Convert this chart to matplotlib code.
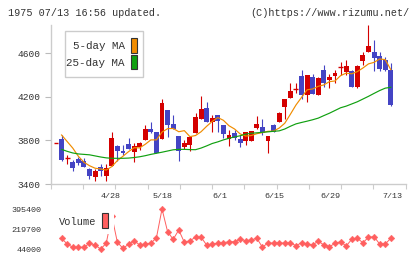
import numpy as np
import matplotlib
matplotlib.use('Agg')
import matplotlib.pyplot as plt
from matplotlib.patches import Rectangle

plt.rcParams['font.family'] = ['Liberation Mono', 'DejaVu Sans Mono']

# ---------------- data ----------------
opens = [3780, 3813, 3636, 3605, 3630, 3611, 3538, 3467, 3559, 3473,
         3565, 3749, 3703, 3767, 3697, 3737, 3804, 3905, 3877, 3813,
         4080, 3954, 3841, 3743, 3755, 3871, 3997, 4098, 3972, 4034,
         3942, 3810, 3865, 3810, 3798, 3798, 3917, 3927, 3798, 3939,
         3972, 4110, 4193, 4269, 4392, 4217, 4383, 4217, 4447, 4355,
         4395, 4478, 4425, 4441, 4288, 4533, 4609, 4615, 4575, 4539,
         4447]
highs = [3780, 3850, 3666, 3620, 3651, 3642, 3550, 3535, 3584, 3584,
         3877, 3758, 3758, 3825, 3773, 3790, 3942, 3966, 3877, 4180,
         4080, 4034, 3841, 3804, 3841, 4055, 4208, 4156, 4034, 4034,
         3942, 3896, 3896, 3850, 3880, 3887, 4024, 3997, 3841, 3951,
         4064, 4178, 4331, 4331, 4447, 4401, 4410, 4380, 4493, 4410,
         4447, 4517, 4539, 4447, 4493, 4615, 4860, 4722, 4615, 4570,
         4508]
lows = [3780, 3614, 3584, 3522, 3578, 3553, 3449, 3430, 3470, 3430,
        3565, 3611, 3666, 3718, 3605, 3715, 3800, 3865, 3682, 3813,
        3834, 3905, 3614, 3718, 3706, 3871, 3997, 3972, 3880, 3880,
        3819, 3752, 3804, 3743, 3758, 3798, 3902, 3850, 3688, 3874,
        3972, 3997, 4193, 4239, 4181, 4156, 4226, 4217, 4288, 4279,
        4330, 4401, 4401, 4294, 4279, 4493, 4609, 4441, 4441, 4441,
        4116]
closes = [3780, 3620, 3636, 3550, 3596, 3559, 3476, 3519, 3522, 3544,
          3819, 3703, 3688, 3724, 3749, 3779, 3905, 3877, 3682, 4144,
          3945, 3905, 3706, 3780, 3828, 4012, 4089, 3972, 4003, 3982,
          3859, 3850, 3825, 3780, 3874, 3887, 3951, 3865, 3841, 3874,
          4049, 4178, 4254, 4269, 4217, 4401, 4226, 4370, 4325, 4383,
          4422, 4478, 4484, 4294, 4484, 4585, 4667, 4554, 4456, 4447,
          4125]
ma5 = [np.nan, 3850, 3790, 3730, 3655, 3600, 3568, 3545, 3538, 3528,
       3560, 3615, 3655, 3697, 3733, 3732, 3765, 3805, 3805, 3877,
       3908, 3910, 3880, 3890, 3835, 3845, 3880, 3930, 3975, 4010,
       3985, 3935, 3905, 3860, 3840, 3845, 3862, 3872, 3884, 3886,
       3914, 3958, 4040, 4125, 4195, 4265, 4273, 4297, 4310, 4340,
       4346, 4395, 4418, 4412, 4432, 4465, 4503, 4517, 4548, 4542,
       4450]
ma25 = [np.nan, 3718, 3700, 3685, 3676, 3672, 3668, 3658, 3648, 3640,
        3636, 3636, 3636, 3638, 3643, 3650, 3660, 3672, 3682, 3692,
        3703, 3714, 3718, 3718, 3716, 3715, 3730, 3750, 3772, 3787,
        3805, 3820, 3832, 3843, 3858, 3866, 3870, 3875, 3879, 3884,
        3888, 3905, 3930, 3952, 3965, 3977, 3990, 4005, 4028, 4050,
        4075, 4100, 4115, 4135, 4155, 4180, 4205, 4232, 4258, 4280,
        4288]
volumes = [np.nan, 138000, 88000, 59000, 59000, 59000, 94000, 79000, 44000, 94000,
           335000, 103000, 50000, 85000, 117000, 79000, 88000, 94000, 143000, 395400,
           196000, 129000, 211000, 103000, 117000, 147000, 147000, 79000, 88000, 94000,
           99000, 108000, 108000, 129000, 117000, 123000, 138000, 59000, 99000, 94000,
           99000, 94000, 99000, 73000, 99000, 88000, 79000, 114000, 79000, 64000,
           94000, 108000, 70000, 129000, 138000, 99000, 147000, 152000, 88000, 88000,
           138000]
date_labels = ['4/28', '5/18', '6/1', '6/15', '6/29', '7/13']
date_label_pos = [9.7, 19.0, 29.4, 39.1, 49.1, 60.2]
price_ticks = [3400, 3800, 4200, 4600]
vol_ticks = [44000, 219700, 395400]

# ---------------- figure ----------------
W, H = 420, 259
fig = plt.figure(figsize=(W / 100, H / 100), dpi=100)

def rect_px(x0, y0, x1, y1):
    return [x0 / W, 1 - y1 / H, (x1 - x0) / W, (y1 - y0) / H]

UP = '#d40000'
DOWN = '#4444c4'
GRID = '#cccccc'
TXT = '#333333'

ax = fig.add_axes(rect_px(50.7, 25, 405.7, 184))
n = len(closes)
x = np.arange(n)
o = np.array(opens, float); c = np.array(closes, float)
h = np.array(highs, float); l = np.array(lows, float)
cols = [UP if cc >= oo else DOWN for oo, cc in zip(o, c)]
ax.vlines(x, l, h, colors=cols, linewidth=0.8, zorder=2)
bw = 0.88
body_lo = np.minimum(o, c)
body_h = np.abs(c - o)
flat = body_h == 0
ax.bar(x[~flat], body_h[~flat], bottom=body_lo[~flat], width=bw,
       color=np.array(cols)[~flat], linewidth=0, zorder=2)
ax.hlines(o[flat], x[flat] - bw / 2, x[flat] + bw / 2,
          colors=np.array(cols)[flat], linewidth=1.0, zorder=2)

ax.plot(x, ma5, color='#f08c00', linewidth=0.85, zorder=3)
ax.plot(x, ma25, color='#10a010', linewidth=0.85, zorder=3)

ax.set_xlim(-0.95, 62.67)
ax.set_ylim(3400, 4860)
for s in ['top', 'right']:
    ax.spines[s].set_visible(False)
for s in ['left', 'bottom']:
    ax.spines[s].set_color(GRID)
    ax.spines[s].set_linewidth(1.0)
ax.set_yticks(price_ticks)
ax.set_yticklabels([str(v) for v in price_ticks])
ax.tick_params(axis='y', length=4.3, width=0.8, color='#bbbbbb',
               labelsize=6.8, labelcolor=TXT, pad=2.8)
ax.set_xticks(np.linspace(-0.95, 62.67, 12))
ax.set_xticklabels([])
ax.tick_params(axis='x', which='major', length=3.8, width=0.8, color=GRID)
ax.set_xticks(date_label_pos, minor=True)
ax.set_xticklabels(date_labels, minor=True)
ax.tick_params(axis='x', which='minor', length=0, labelsize=6.0,
               labelcolor=TXT, pad=6.5)

# ---------------- volume panel ----------------
axv = fig.add_axes(rect_px(50.7, 200, 405.7, 258))
axv.plot(x, volumes, color='#ff5f5f', linewidth=0.7, marker='D',
         markersize=3.4, markeredgewidth=0.3, markeredgecolor='#ff5f5f')
axv.set_xlim(-0.95, 62.67)
axv.set_ylim(-35065, 474465)
for s in axv.spines.values():
    s.set_visible(False)
axv.set_xticks([])
axv.set_yticks(vol_ticks)
axv.set_yticklabels([str(v) for v in vol_ticks])
axv.tick_params(axis='y', length=0, labelsize=6.0, labelcolor=TXT, pad=6.5)

# ---------------- overlay (legends, titles) ----------------
ov = fig.add_axes([0, 0, 1, 1], zorder=10)
ov.set_xlim(0, W)
ov.set_ylim(H, 0)
ov.axis('off')
ov.patch.set_alpha(0)

ov.add_patch(Rectangle((65, 30.7), 78, 46, facecolor='white',
                       edgecolor=GRID, linewidth=1.0))
ov.text(125, 46, '5-day MA', ha='right', va='center', fontsize=7.8, color=TXT)
ov.text(125, 63, '25-day MA', ha='right', va='center', fontsize=7.8, color=TXT)
ov.add_patch(Rectangle((131, 37.5), 6, 15, facecolor='#f08c00',
                       edgecolor='#333333', linewidth=0.8))
ov.add_patch(Rectangle((131, 54.5), 6, 14.5, facecolor='#10a010',
                       edgecolor='#333333', linewidth=0.8))

ov.add_patch(Rectangle((56, 210), 58, 24, facecolor='white', edgecolor='none'))
ov.text(59, 222, 'Volume', ha='left', va='center', fontsize=7.5, color=TXT)
ov.add_patch(Rectangle((102, 213), 5.5, 15, facecolor='#ff5f5f',
                       edgecolor='#333333', linewidth=0.8))

ov.text(8, 12.7, '1975 07/13 16:56 updated.', ha='left', va='center',
        fontsize=7.3, color=TXT)
ov.text(410, 12.7, '(C)https://www.rizumu.net/', ha='right', va='center',
        fontsize=7.3, color=TXT)

fig.savefig('out.png', dpi=100, facecolor='white')
